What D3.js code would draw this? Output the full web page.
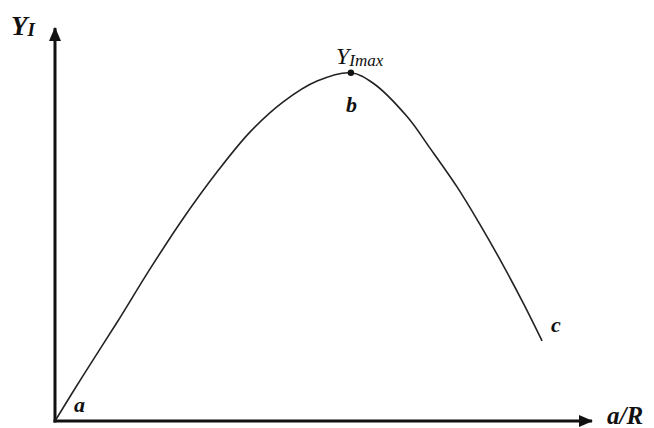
<!DOCTYPE html>
<html>
<head>
<meta charset="utf-8">
<script src="https://cdn.jsdelivr.net/npm/d3@7"></script>
<style>
  html, body { margin: 0; padding: 0; background: #fff; }
  svg { display: block; }
  .lbl { font-family: "Liberation Serif", "DejaVu Serif", serif; font-style: italic; fill: #111; }
</style>
</head>
<body>
<script>
// Relative a/R position (0..1 of axis length) and Y_I response (0..1 of axis height)
const ratioValues = [0, 0.052, 0.116, 0.177, 0.238, 0.302, 0.363, 0.425, 0.488, 0.551,
                     0.592, 0.656, 0.698, 0.749, 0.791, 0.829, 0.872, 0.907];
const yieldValues = [0, 0.115, 0.252, 0.387, 0.514, 0.634, 0.735, 0.812, 0.865, 0.886,
                     0.860, 0.774, 0.695, 0.595, 0.501, 0.410, 0.300, 0.204];
// Index of the maximum point (b)
const peakIndex = 9;

const W = 654, H = 428;
const svg = d3.select("body").append("svg").attr("width", W).attr("height", H);

const x = d3.scaleLinear().domain([0, 1]).range([55, 592]);
const y = d3.scaleLinear().domain([0, 1]).range([421, 28]);

// arrowheads
const defs = svg.append("defs");
defs.append("marker")
  .attr("id", "arrow")
  .attr("viewBox", "0 0 14 12")
  .attr("refX", 13).attr("refY", 6)
  .attr("markerWidth", 14).attr("markerHeight", 12)
  .attr("markerUnits", "userSpaceOnUse")
  .attr("orient", "auto")
  .append("path").attr("d", "M0,0 L14,6 L0,12 Z").attr("fill", "#111");

// axes
svg.append("line")
  .attr("x1", x(0)).attr("y1", y(0) + 1.5)
  .attr("x2", x(0)).attr("y2", y(1))
  .attr("stroke", "#111").attr("stroke-width", 3)
  .attr("marker-end", "url(#arrow)");
svg.append("line")
  .attr("x1", x(0) - 1.5).attr("y1", y(0))
  .attr("x2", x(1)).attr("y2", y(0))
  .attr("stroke", "#111").attr("stroke-width", 3)
  .attr("marker-end", "url(#arrow)");

// curve
const pts = ratioValues.map((r, i) => [r, yieldValues[i]]);
const line = d3.line()
  .x(d => x(d[0])).y(d => y(d[1]))
  .curve(d3.curveCatmullRom.alpha(0.5));
svg.append("path")
  .attr("d", line(pts))
  .attr("fill", "none")
  .attr("stroke", "#222")
  .attr("stroke-width", 1.6);

// maximum point
svg.append("circle")
  .attr("cx", x(ratioValues[peakIndex])).attr("cy", y(yieldValues[peakIndex]))
  .attr("r", 3.2).attr("fill", "#111");

// labels
const yl = svg.append("text").attr("class", "lbl").attr("x", 11).attr("y", 35)
  .attr("font-weight", "bold").attr("font-size", 27);
yl.append("tspan").text("Y");
yl.append("tspan").attr("font-size", 19).attr("dy", 1).text("I");

const ym = svg.append("text").attr("class", "lbl").attr("x", 336).attr("y", 64)
  .attr("font-size", 24);
ym.append("tspan").text("Y");
ym.append("tspan").attr("font-size", 17).attr("dy", 2).text("Imax");

svg.append("text").attr("class", "lbl").attr("x", 346).attr("y", 112)
  .attr("font-weight", "bold").attr("font-size", 22).text("b");
svg.append("text").attr("class", "lbl").attr("x", 74).attr("y", 412)
  .attr("font-weight", "bold").attr("font-size", 22).text("a");
svg.append("text").attr("class", "lbl").attr("x", 551).attr("y", 332)
  .attr("font-weight", "bold").attr("font-size", 22).text("c");
svg.append("text").attr("class", "lbl").attr("x", 607).attr("y", 424)
  .attr("font-weight", "bold").attr("font-size", 25).text("a/R");
</script>
</body>
</html>
